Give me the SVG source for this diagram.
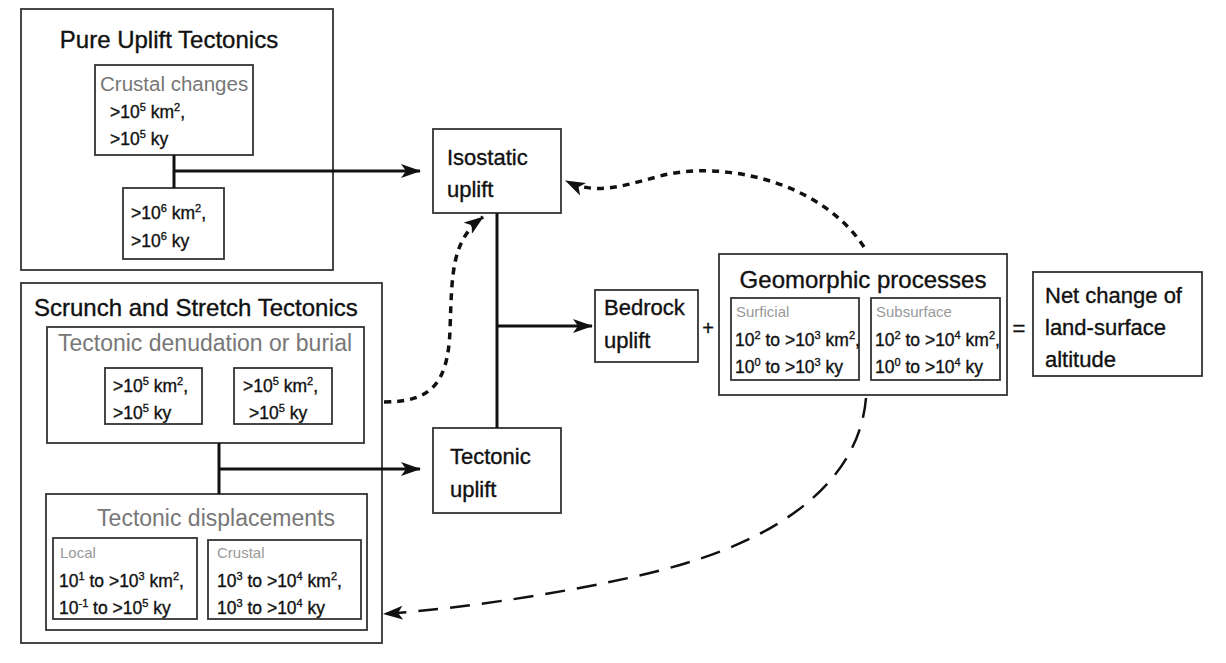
<svg xmlns="http://www.w3.org/2000/svg" width="1226" height="663" viewBox="0 0 1226 663">
<style>
.box{fill:#fff;stroke:#333;stroke-width:1.8}
.t{font-family:"Liberation Sans","DejaVu Sans",sans-serif;fill:#111;stroke:#111;stroke-width:0.35}
.ttl{font-size:24px}
.big{font-size:22px}
.mid{font-size:17.5px}
.sup{font-size:11px}
.gray{fill:#777;stroke:none}
.lg{fill:#999;stroke:none;font-size:15px}
.ln{fill:none;stroke:#111;stroke-width:3}
.dot{fill:none;stroke:#111;stroke-width:3.5;stroke-dasharray:7 6}
.dash{fill:none;stroke:#111;stroke-width:2.5;stroke-dasharray:20 12}
</style>
<defs>
<marker id="ah" viewBox="0 0 20 14" refX="19" refY="7" markerWidth="20" markerHeight="14" markerUnits="userSpaceOnUse" orient="auto">
<path d="M0,0 L20,7 L0,14 L5,7 Z" fill="#111"/>
</marker>
</defs>
<rect width="1226" height="663" fill="#fff"/>

<g id="pure-uplift">
<rect class="box" x="21" y="9" width="312" height="261"/>
<text class="t ttl" x="169" y="48" text-anchor="middle">Pure Uplift Tectonics</text>
</g>
<g id="crustal-changes">
<rect class="box" x="95" y="65" width="158" height="90"/>
<text class="t gray" font-size="20.5" x="100" y="91">Crustal changes</text>
<text class="t mid" x="110" y="118">&gt;10<tspan dy="-7" class="sup">5</tspan><tspan dy="7"> km</tspan><tspan dy="-7" class="sup">2</tspan><tspan dy="7">,</tspan></text>
<text class="t mid" x="110" y="145">&gt;10<tspan dy="-7" class="sup">5</tspan><tspan dy="7"> ky</tspan></text>
</g>
<g id="pure-lower">
<rect class="box" x="123" y="188" width="101" height="71"/>
<text class="t mid" x="131" y="219">&gt;10<tspan dy="-7" class="sup">6</tspan><tspan dy="7"> km</tspan><tspan dy="-7" class="sup">2</tspan><tspan dy="7">,</tspan></text>
<text class="t mid" x="131" y="247">&gt;10<tspan dy="-7" class="sup">6</tspan><tspan dy="7"> ky</tspan></text>
</g>

<g id="scrunch">
<rect class="box" x="21" y="283" width="361" height="360"/>
<text class="t ttl" x="34" y="316">Scrunch and Stretch Tectonics</text>
</g>
<g id="denudation">
<rect class="box" x="47" y="327" width="317" height="116"/>
<text class="t gray" font-size="23" x="58" y="351">Tectonic denudation or burial</text>
</g>
<g id="den-a">
<rect class="box" x="105" y="368" width="97" height="56"/>
<text class="t mid" x="113" y="392">&gt;10<tspan dy="-7" class="sup">5</tspan><tspan dy="7"> km</tspan><tspan dy="-7" class="sup">2</tspan><tspan dy="7">,</tspan></text>
<text class="t mid" x="113" y="419">&gt;10<tspan dy="-7" class="sup">5</tspan><tspan dy="7"> ky</tspan></text>
</g>
<g id="den-b">
<rect class="box" x="234" y="368" width="98" height="56"/>
<text class="t mid" x="243" y="392">&gt;10<tspan dy="-7" class="sup">5</tspan><tspan dy="7"> km</tspan><tspan dy="-7" class="sup">2</tspan><tspan dy="7">,</tspan></text>
<text class="t mid" x="249" y="419">&gt;10<tspan dy="-7" class="sup">5</tspan><tspan dy="7"> ky</tspan></text>
</g>
<g id="displacements">
<rect class="box" x="46" y="494" width="321" height="136"/>
<text class="t gray" font-size="23" x="216" y="526" text-anchor="middle">Tectonic displacements</text>
</g>
<g id="local">
<rect class="box" x="53" y="538" width="144" height="81"/>
<text class="t lg" x="60" y="558">Local</text>
<text class="t mid" x="59" y="587">10<tspan dy="-7" class="sup">1</tspan><tspan dy="7"> to &gt;10</tspan><tspan dy="-7" class="sup">3</tspan><tspan dy="7"> km</tspan><tspan dy="-7" class="sup">2</tspan><tspan dy="7">,</tspan></text>
<text class="t mid" x="59" y="614">10<tspan dy="-7" class="sup">-1</tspan><tspan dy="7"> to &gt;10</tspan><tspan dy="-7" class="sup">5</tspan><tspan dy="7"> ky</tspan></text>
</g>
<g id="crustal">
<rect class="box" x="208" y="540" width="153" height="79"/>
<text class="t lg" x="217" y="558">Crustal</text>
<text class="t mid" x="217" y="587">10<tspan dy="-7" class="sup">3</tspan><tspan dy="7"> to &gt;10</tspan><tspan dy="-7" class="sup">4</tspan><tspan dy="7"> km</tspan><tspan dy="-7" class="sup">2</tspan><tspan dy="7">,</tspan></text>
<text class="t mid" x="217" y="614">10<tspan dy="-7" class="sup">3</tspan><tspan dy="7"> to &gt;10</tspan><tspan dy="-7" class="sup">4</tspan><tspan dy="7"> ky</tspan></text>
</g>

<g id="isostatic">
<rect class="box" x="433" y="129" width="128" height="84"/>
<text class="t big" x="447" y="165">Isostatic</text>
<text class="t big" x="447" y="197">uplift</text>
</g>
<g id="tectonic-uplift">
<rect class="box" x="433" y="428" width="128" height="85"/>
<text class="t big" x="450" y="464">Tectonic</text>
<text class="t big" x="450" y="497">uplift</text>
</g>
<g id="bedrock">
<rect class="box" x="595" y="290" width="103" height="72"/>
<text class="t big" x="604" y="315">Bedrock</text>
<text class="t big" x="604" y="348">uplift</text>
</g>
<text class="t" font-size="20" x="708" y="335" text-anchor="middle">+</text>
<g id="geomorphic">
<rect class="box" x="719" y="254" width="288" height="141"/>
<text class="t ttl" x="863" y="288" text-anchor="middle">Geomorphic processes</text>
</g>
<g id="surficial">
<rect class="box" x="731" y="298" width="128" height="82"/>
<text class="t lg" x="736" y="317">Surficial</text>
<text class="t mid" x="735" y="346">10<tspan dy="-7" class="sup">2</tspan><tspan dy="7"> to &gt;10</tspan><tspan dy="-7" class="sup">3</tspan><tspan dy="7"> km</tspan><tspan dy="-7" class="sup">2</tspan><tspan dy="7">,</tspan></text>
<text class="t mid" x="735" y="373">10<tspan dy="-7" class="sup">0</tspan><tspan dy="7"> to &gt;10</tspan><tspan dy="-7" class="sup">3</tspan><tspan dy="7"> ky</tspan></text>
</g>
<g id="subsurface">
<rect class="box" x="871" y="298" width="129" height="82"/>
<text class="t lg" x="876" y="317">Subsurface</text>
<text class="t mid" x="875" y="346">10<tspan dy="-7" class="sup">2</tspan><tspan dy="7"> to &gt;10</tspan><tspan dy="-7" class="sup">4</tspan><tspan dy="7"> km</tspan><tspan dy="-7" class="sup">2</tspan><tspan dy="7">,</tspan></text>
<text class="t mid" x="875" y="373">10<tspan dy="-7" class="sup">0</tspan><tspan dy="7"> to &gt;10</tspan><tspan dy="-7" class="sup">4</tspan><tspan dy="7"> ky</tspan></text>
</g>
<text class="t" font-size="22" x="1019" y="336" text-anchor="middle">=</text>
<g id="net-change">
<rect class="box" x="1033" y="272" width="169" height="104"/>
<text class="t big" x="1045" y="303">Net change of</text>
<text class="t big" x="1045" y="335">land-surface</text>
<text class="t big" x="1045" y="367">altitude</text>
</g>

<g id="connectors">
<path class="ln" d="M174,155 V188"/>
<path class="ln" d="M174,171 H420" marker-end="url(#ah)"/>
<path class="ln" d="M219,443 V494"/>
<path class="ln" d="M219,469 H420" marker-end="url(#ah)"/>
<path class="ln" d="M497,213 V428"/>
<path class="ln" d="M497,326 H592" marker-end="url(#ah)"/>
<path class="dot" d="M384,402 C430,402 448,385 450,330 C452,270 452,240 483,217" marker-end="url(#ah)"/>
<path class="dot" d="M864,247 C820,180 720,160 660,176 C620,187 595,195 566,181" marker-end="url(#ah)"/>
<path class="dash" d="M866,398 C860,470 800,530 680,565 C600,588 470,608 384,614" marker-end="url(#ah)"/>
</g>
</svg>
